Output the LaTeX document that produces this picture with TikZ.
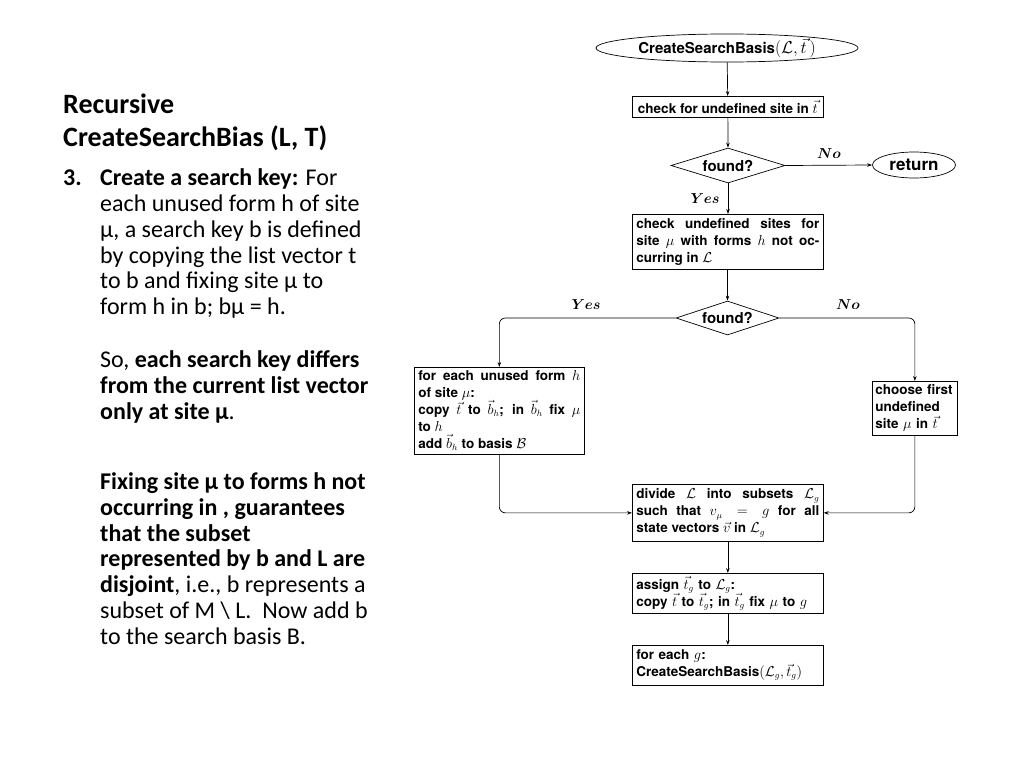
\documentclass[tikz,border=0pt]{standalone}
\usepackage{fontspec}
\usepackage{amsmath}
\setmainfont{Carlito}
\newfontfamily\hv{TeX Gyre Heros}
\usetikzlibrary{shapes.geometric,arrows.meta}
\begin{document}
\begin{tikzpicture}[x=1pt,y=-1pt,
  procbox/.style={draw, line width=0.7pt, font=\hv\bfseries\fontsize{13.5}{17}\selectfont,
    inner xsep=4pt, inner ysep=1pt, align=justify, anchor=north west},
  term/.style={draw, ellipse, line width=0.7pt, inner sep=0pt},
  decision/.style={draw, diamond, line width=0.7pt, inner sep=0pt, aspect=3.2,
    font=\hv\bfseries\fontsize{15}{17}\selectfont},
  flow/.style={line width=0.7pt, -{Stealth[length=5pt,width=3.5pt]}},
  rflow/.style={flow, rounded corners=6pt},
  lbl/.style={font=\fontsize{15.5}{18}\selectfont\boldmath},
  ttl/.style={font=\bfseries\fontsize{28}{33}\selectfont, anchor=base west, inner sep=0pt},
  body/.style={font=\fontsize{24}{26}\selectfont, anchor=base west, inner sep=0pt}
]
\useasboundingbox (0,0) rectangle (1024,768);

% ---------- left text ----------
\node[ttl] (t1) at (63,113) {Recursive};
\node[ttl] (t2) at (63,146) {CreateSearchBias (L, T)};
\node[body] (n3) at (63,185) {\bfseries 3.};
\node[body] (a1) at (100,185) {\textbf{Create a search key:} For};
\node[body] (a2) at (100,211) {each unused form h of site};
\node[body] (a3) at (100,237) {µ, a search key b is defined};
\node[body] (a4) at (100,263) {by copying the list vector t};
\node[body] (a5) at (100,288) {to b and fixing site µ to};
\node[body] (a6) at (100,314) {form h in b; bµ = h.};
\node[body] (b1) at (100,367) {So, \textbf{each search key differs}};
\node[body] (b2) at (100,393) {\bfseries from the current list vector};
\node[body] (b3) at (100,419) {\textbf{only at site µ}.};
\node[body] (c1) at (100,489) {\bfseries Fixing site µ to forms h not};
\node[body] (c2) at (100,515) {\bfseries occurring in , guarantees};
\node[body] (c3) at (100,541) {\bfseries that the subset};
\node[body] (c4) at (100,566) {\bfseries represented by b and L are};
\node[body] (c5) at (100,592) {\textbf{disjoint}, i.e., b represents a};
\node[body] (c6) at (100,618) {subset of M \textbackslash{} L.\ \ Now add b};
\node[body] (c7) at (100,644) {to the search basis B.};

% ---------- flowchart ----------
\node[term, minimum width=262pt, minimum height=28pt,
  font=\hv\bfseries\fontsize{15}{17}\selectfont] (start) at (727,48)
  {CreateSearchBasis{\fontsize{16}{18}\selectfont$(\mathcal{L},\vec{t}\,)$}};

\node[draw, line width=0.7pt, font=\hv\bfseries\fontsize{13.5}{17}\selectfont,
  inner xsep=4pt, inner ysep=1pt, anchor=north west,
  minimum width=191pt, minimum height=21pt] (chk) at (632,96)
  {check for undefined site in $\vec{t}$};

\node[decision, minimum width=114pt, minimum height=35pt] (d1) at (728,165.5) {found?};

\node[term, minimum width=83pt, minimum height=26pt,
  font=\hv\bfseries\fontsize{17}{19}\selectfont] (ret) at (914,165) {return};

\node[procbox, text width=183pt, minimum height=55pt] (chk2) at (632,214)
  {check undefined sites for\linebreak
   site $\mu$ with forms $h$ not oc-\linebreak
   curring in $\mathcal{L}$};

\node[decision, minimum width=103pt, minimum height=34pt] (d2) at (727.5,318) {found?};

\node[procbox, text width=162pt, minimum height=87pt] (each) at (414,367)
  {for each unused form $h$\linebreak
   of site $\mu$:\\
   copy $\vec{t}$ to $\vec{b}_h$; in $\vec{b}_h$ fix $\mu$\linebreak
   to $h$\\
   add $\vec{b}_h$ to basis $\mathcal{B}$};

\node[procbox, text width=79pt, inner xsep=3pt, minimum height=54pt, align=left] (first) at (872,381)
  {choose first\\ undefined\\ site $\mu$ in $\vec{t}$};

\node[procbox, text width=183pt, minimum height=57pt] (div) at (632,484)
  {divide $\mathcal{L}$ into subsets $\mathcal{L}_g$\linebreak
   such that $v_\mu = g$ for all\linebreak
   state vectors $\vec{v}$ in $\mathcal{L}_g$};

\node[procbox, text width=183pt, minimum height=40pt, align=left] (asg) at (632,573)
  {assign $\vec{t}_g$ to $\mathcal{L}_g$:\\
   copy $\vec{t}$ to $\vec{t}_g$; in $\vec{t}_g$ fix $\mu$ to $g$};

\node[procbox, text width=183pt, minimum height=40pt, align=left] (fe) at (632,645)
  {for each $g$:\\
   CreateSearchBasis$(\mathcal{L}_g,\vec{t}_g)$};

% connectors
\draw[flow] (start) -- (chk);
\draw[flow] (chk) -- (d1);
\draw[flow] (d1.east) -- (ret.west);
\draw[flow] (d1.south) -- (d1.south |- chk2.north);
\draw[flow] (chk2.south -| d2.north) -- (d2.north);
\draw[rflow] (d2.west) -| (each.north);
\draw[rflow] (d2.east) -| (first.north);
\draw[rflow] (each.south) |- (div.west);
\draw[rflow] (first.south) |- (div.east);
\draw[flow] (div) -- (asg);
\draw[flow] (asg) -- (fe);

% labels
\node[lbl] (lno1) at (829,154) {$No$};
\node[lbl] (lyes1) at (705,199) {$Yes$};
\node[lbl] (lyes2) at (586,305) {$Yes$};
\node[lbl] (lno2) at (848,305) {$No$};
\end{tikzpicture}
\end{document}
